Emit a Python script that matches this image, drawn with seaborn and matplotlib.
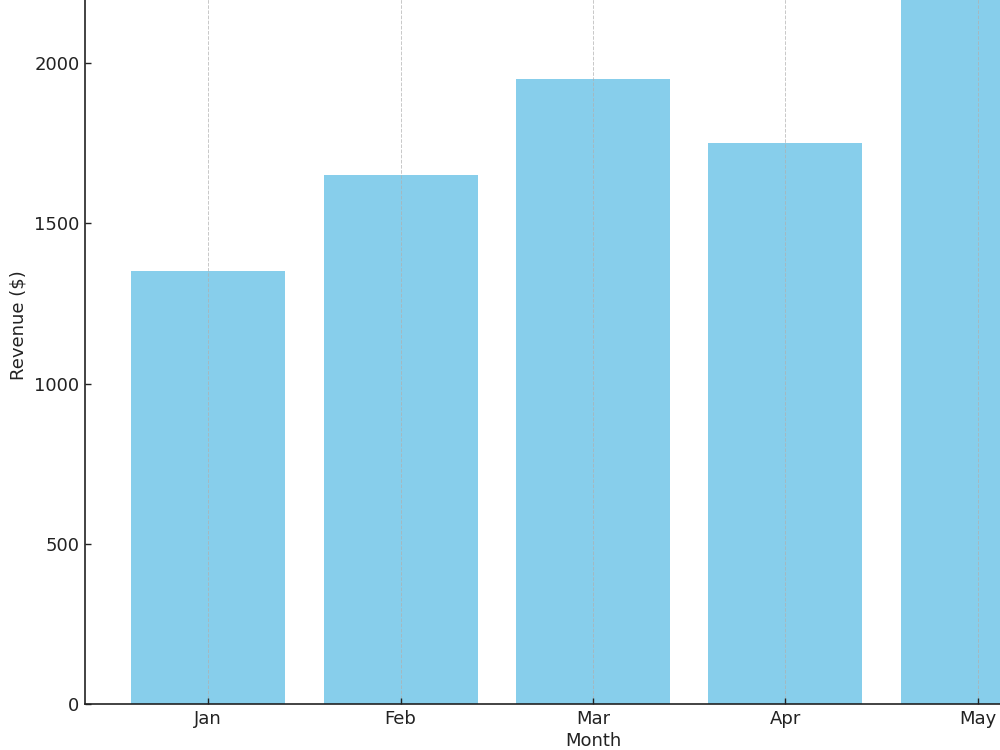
import matplotlib
matplotlib.use("Agg")
import matplotlib.pyplot as plt
import seaborn as sns
import pandas as pd

months = ["Jan", "Feb", "Mar", "Apr", "May"]
revenue = [1350, 1650, 1950, 1750, 2300]

sns.set_style("white")
plt.rcParams['font.family'] = ['DejaVu Sans']

df = pd.DataFrame({"Month": months, "Revenue": revenue})

fig = plt.figure(figsize=(10, 7.5), dpi=100)
# axes extends past the figure's top/right edges (chart appears cropped)
ax = fig.add_axes([0.085, 46 / 750, 1016 / 1000, 758 / 750])

sns.barplot(data=df, x="Month", y="Revenue", color="#87CEEB", saturation=1,
            width=0.8, ax=ax, edgecolor="none")

ax.set_xlim(-0.64, 4.64)
ax.set_ylim(0, 2000 * 758 / 641)

ax.set_axisbelow(False)
ax.grid(axis="x", linestyle="--", color="#b0b0b0", linewidth=0.7, alpha=0.7)
ax.grid(axis="y", visible=False)

for s in ["top", "right"]:
    ax.spines[s].set_visible(False)
for s in ["left", "bottom"]:
    ax.spines[s].set_color("#222222")
    ax.spines[s].set_linewidth(1.2)

ax.tick_params(axis="both", which="major", length=4, width=1, color="#222222",
               labelsize=13, labelcolor="#222222", bottom=True, left=True,
               direction="in", pad=4)
ax.set_yticks([0, 500, 1000, 1500, 2000])
ax.set_xlabel("Month", fontsize=13, color="#222222", labelpad=3)
ax.set_ylabel("Revenue ($)", fontsize=13, color="#222222", labelpad=5)

fig.savefig("out.png", dpi=100)
